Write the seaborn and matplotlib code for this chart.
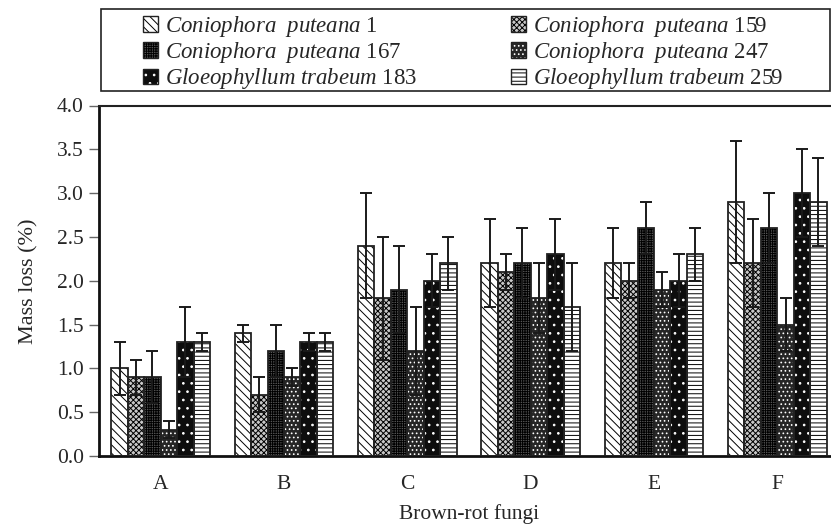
import matplotlib
matplotlib.use("Agg")
import matplotlib.pyplot as plt
from matplotlib.patches import Rectangle, Patch
import seaborn as sns
import numpy as np
import pandas as pd

categories = ["A", "B", "C", "D", "E", "F"]
strains = ["Coniophora  puteana 1", "Coniophora  puteana 159", "Coniophora  puteana 167",
           "Coniophora  puteana 247", "Gloeophyllum trabeum 183", "Gloeophyllum trabeum 259"]
legend_labels = [r"$\mathit{Coniophora\ \ puteana}\ \mathrm{1}$",
                 r"$\mathit{Coniophora\ \ puteana}\ \mathrm{159}$",
                 r"$\mathit{Coniophora\ \ puteana}\ \mathrm{167}$",
                 r"$\mathit{Coniophora\ \ puteana}\ \mathrm{247}$",
                 r"$\mathit{Gloeophyllum\ trabeum}\ \mathrm{183}$",
                 r"$\mathit{Gloeophyllum\ trabeum}\ \mathrm{259}$"]

cp1_mean = [1.0, 1.4, 2.4, 2.2, 2.2, 2.9]
cp159_mean = [0.9, 0.7, 1.8, 2.1, 2.0, 2.2]
cp167_mean = [0.9, 1.2, 1.9, 2.2, 2.6, 2.6]
cp247_mean = [0.3, 0.9, 1.2, 1.8, 1.9, 1.5]
gt183_mean = [1.3, 1.3, 2.0, 2.3, 2.0, 3.0]
gt259_mean = [1.3, 1.3, 2.2, 1.7, 2.3, 2.9]

cp1_err = [0.3, 0.1, 0.6, 0.5, 0.4, 0.7]
cp159_err = [0.2, 0.2, 0.7, 0.2, 0.2, 0.5]
cp167_err = [0.3, 0.3, 0.5, 0.4, 0.3, 0.4]
cp247_err = [0.1, 0.1, 0.5, 0.4, 0.2, 0.3]
gt183_err = [0.4, 0.1, 0.3, 0.4, 0.3, 0.5]
gt259_err = [0.1, 0.1, 0.3, 0.5, 0.3, 0.5]

means = [cp1_mean, cp159_mean, cp167_mean, cp247_mean, gt183_mean, gt259_mean]
errs = [cp1_err, cp159_err, cp167_err, cp247_err, gt183_err, gt259_err]

rows = []
for s, m, e in zip(strains, means, errs):
    for c, mv, ev in zip(categories, m, e):
        rows.append({"fungi": c, "strain": s, "loss": mv, "err": ev})
df = pd.DataFrame(rows)

# face colour, hatch colour, hatch
styles = [
    ("white", "black", "\\\\\\\\"),
    ("#c8c8c8", "black", "xxxxxx"),
    ("#555555", "black", "+++++++"),
    ("#262626", "white", "...."),
    ("#0d0d0d", "white", ".."),
    ("white", "black", "----"),
]

sns.set_style("white")
plt.rcParams["font.family"] = ["Liberation Serif", "DejaVu Serif"]
plt.rcParams["mathtext.fontset"] = "custom"
plt.rcParams["mathtext.it"] = "Liberation Serif:italic"
plt.rcParams["mathtext.rm"] = "Liberation Serif"
plt.rcParams["hatch.linewidth"] = 0.7

fig = plt.figure(figsize=(8.31, 5.28), dpi=100)
ax = fig.add_axes([99 / 831, 1 - 456 / 528, 740 / 831, (456 - 105.5) / 528])

sns.barplot(data=df, x="fungi", y="loss", hue="strain", hue_order=strains,
            order=categories, errorbar=None, width=0.8, ax=ax, legend=False)

bar_containers = list(ax.containers)
for k, cont in enumerate(bar_containers):
    fc, hc, hatch = styles[k]
    xs, ys = [], []
    for p in cont.patches:
        p.set_facecolor(fc)
        p.set_edgecolor(hc)
        p.set_hatch(hatch)
        p.set_linewidth(0)
        ax.add_patch(Rectangle((p.get_x(), p.get_y()), p.get_width(), p.get_height(),
                               fill=False, edgecolor="#222222", linewidth=1.3, zorder=3))
        xs.append(p.get_x() + p.get_width() / 2)
        ys.append(p.get_height())
    ax.errorbar(xs, ys, yerr=errs[k], fmt="none", ecolor="#1a1a1a",
                elinewidth=1.4, capsize=4.5, capthick=1.4, zorder=4)

ax.set_ylim(0, 4.0)
ax.set_yticks(np.arange(0, 4.01, 0.5))
ax.set_yticklabels([f"{v:.1f}" for v in np.arange(0, 4.01, 0.5)], fontsize=15.5)
ax.set_xlim(-0.5, len(categories) - 0.5)
ax.set_xticks(range(len(categories)))
ax.set_xticklabels(categories, fontsize=15.5)
ax.set_xticks(np.arange(-0.5, len(categories), 1.0), minor=True)
ax.tick_params(axis="x", which="major", length=0, pad=14)
ax.tick_params(axis="x", which="minor", length=7, width=1.2, direction="out", color="#333333")
ax.tick_params(axis="y", length=7, width=1.0, direction="out", color="#666666", left=True, pad=4)
ax.set_xlabel("Brown-rot fungi", fontsize=15.5, labelpad=7)
ax.set_ylabel("Mass loss (%)", fontsize=16, labelpad=13)
for side in ["left", "bottom"]:
    ax.spines[side].set_linewidth(2.0)
    ax.spines[side].set_color("#111111")
for side in ["top", "right"]:
    ax.spines[side].set_linewidth(1.5)
    ax.spines[side].set_color("#222222")

handles = []
for fc, hc, hatch in styles:
    handles.append((Patch(facecolor=fc, edgecolor=hc, hatch=hatch, linewidth=0),
                    Patch(fill=False, edgecolor="#222222", linewidth=1.0)))
# reorder for row-wise filling with 2 columns
order = [0, 2, 4, 1, 3, 5]
leg = fig.legend([handles[i] for i in order], [legend_labels[i] for i in order],
                 ncol=2, loc="upper left",
                 bbox_to_anchor=(143 / 831, 1 - 14 / 528),
                 frameon=False, fontsize=16.5, handlelength=0.65,
                 handleheight=0.65, handletextpad=0.3, labelspacing=0.05,
                 columnspacing=4.1, borderpad=0, borderaxespad=0)

# legend box
fig.add_artist(Rectangle((101 / 831, 1 - 91 / 528), 729 / 831, 82 / 528,
                         transform=fig.transFigure, fill=False,
                         edgecolor="#222222", linewidth=1.2))

fig.savefig("out.png", dpi=100)
